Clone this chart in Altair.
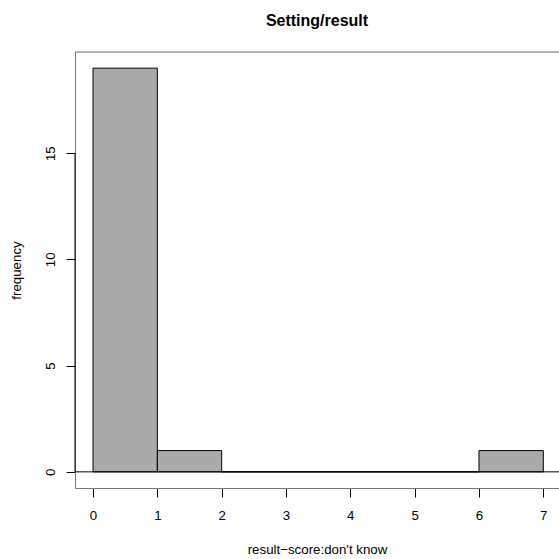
import altair as alt
import pandas as pd

# Histogram data
bin_start = [0, 1, 2, 3, 4, 5, 6]
bin_end = [1, 2, 3, 4, 5, 6, 7]
counts = [19, 1, 0, 0, 0, 0, 1]
x_ticks = [0, 1, 2, 3, 4, 5, 6, 7]
y_ticks = [0, 5, 10, 15]

df = pd.DataFrame({"start": bin_start, "end": bin_end, "count": counts})
one = pd.DataFrame({"a": [0]})

W, H = 484, 436
FONT = "Liberation Sans"
GREY = "#777777"
FS = 13.3

xscale = alt.Scale(domain=[-0.28, 7.244], nice=False, zero=False)
yscale = alt.Scale(domain=[-0.76, 19.76], nice=False, zero=False)

bars = alt.Chart(df).mark_rect(fill="#aaaaaa", stroke="black", strokeWidth=1).encode(
    x=alt.X("start:Q", scale=xscale, axis=alt.Axis(
        values=x_ticks, format="d", title="result\u2212score:don't know",
        domain=True, domainColor=GREY, domainWidth=1,
        ticks=True, tickColor="black", tickSize=9, tickWidth=1,
        labelFont=FONT, labelFontSize=FS, labelColor="black", labelPadding=22,
        labelBaseline="alphabetic", labelAngle=0, labelFlush=False, labelOverlap=False,
        grid=False,
        titleFont=FONT, titleFontSize=FS, titleFontWeight="normal", titleColor="black",
        titleX=W / 2, titleY=65, titleBaseline="alphabetic", titleAlign="center")),
    x2="end:Q",
    y=alt.Y("count:Q", scale=yscale, axis=alt.Axis(
        values=y_ticks, format="d", title="frequency",
        domain=True, domainColor=GREY, domainWidth=1,
        ticks=True, tickColor="black", tickSize=9, tickWidth=1,
        labelFont=FONT, labelFontSize=FS, labelColor="black", labelPadding=12,
        labelAngle=270, labelAlign="center", labelBaseline="alphabetic",
        labelFlush=False, labelOverlap=False, grid=False,
        titleFont=FONT, titleFontSize=FS, titleFontWeight="normal", titleColor="black",
        titleAngle=270, titleX=-55, titleY=H / 2, titleAlign="center",
        titleBaseline="alphabetic")),
    y2=alt.Y2Datum(0),
)

top_rule = alt.Chart(one).mark_rule(color=GREY, strokeWidth=1).encode(
    x=alt.value(0), x2=alt.value(W), y=alt.value(0)
)

zero_rule = alt.Chart(one).mark_rule(color="black", strokeWidth=1).encode(
    x=alt.value(0), x2=alt.value(W), y=alt.datum(0)
)

y_line = alt.Chart(one).mark_rule(color="black", strokeWidth=1).encode(
    x=alt.value(0), y=alt.datum(0), y2=alt.datum(15)
)

chart = alt.layer(bars, top_rule, zero_rule, y_line).properties(
    width=W, height=H,
    autosize=alt.AutoSizeParams(type="none"),
    padding={"left": 75, "top": 52, "right": 0, "bottom": 71},
    title=alt.TitleParams("Setting/result", font=FONT, fontSize=16, fontWeight="bold",
                          anchor="middle", frame="group", offset=10,
                          baseline="alphabetic", color="black"),
).configure_view(strokeWidth=0).configure(background="white")

chart.save("out.html", embed_options={"renderer": "svg", "actions": False})
